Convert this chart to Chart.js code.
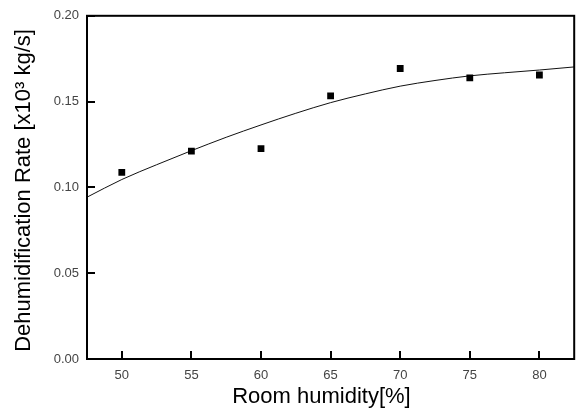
<!DOCTYPE html>
<html lang="en">
<head>
    <meta charset="UTF-8">
    <title>Dehumidification Rate vs Room humidity</title>
    <script src="https://cdn.jsdelivr.net/npm/chart.js"></script>
    <style>
        html, body { margin: 0; padding: 0; background: #fff; }
        #wrap { width: 579px; height: 412px; }
    </style>
</head>
<body>
    <div id="wrap"><canvas id="rateChart" width="579" height="412"></canvas></div>

    <script>
        // measured points
        const humidity = [50, 55, 60, 65, 70, 75, 80];
        const rate = [0.1088, 0.1212, 0.1226, 0.1533, 0.1693, 0.1638, 0.1655];

        // fitted curve
        const fitX = [47.5, 50, 52.5, 55, 57.5, 60, 62.5, 65, 67.5, 70, 72.5, 75, 77.5, 80, 82.5];
        const fitY = [0.0943, 0.1046, 0.1132, 0.1214, 0.1292, 0.1364, 0.1432, 0.1494, 0.1545, 0.1590, 0.1623, 0.1650, 0.1668, 0.1684, 0.1702];

        const xTicks = [50, 55, 60, 65, 70, 75, 80];
        const yTicks = [0.00, 0.05, 0.10, 0.15, 0.20];

        const FONT = "'Liberation Sans', Arial, sans-serif";

        // frame box + inward tick marks
        const framePlugin = {
            id: "frame",
            afterDraw(chart) {
                const { ctx, chartArea: a, scales } = chart;
                ctx.save();
                ctx.strokeStyle = "#000";
                ctx.lineWidth = 2;
                ctx.strokeRect(a.left, a.top, a.right - a.left, a.bottom - a.top);
                ctx.beginPath();
                scales.x.ticks.forEach(t => {
                    const px = Math.round(scales.x.getPixelForValue(t.value));
                    ctx.moveTo(px, a.bottom);
                    ctx.lineTo(px, a.bottom - 8);
                });
                scales.y.ticks.forEach(t => {
                    const py = Math.round(scales.y.getPixelForValue(t.value));
                    ctx.moveTo(a.left, py);
                    ctx.lineTo(a.left + 8, py);
                });
                ctx.stroke();
                ctx.restore();
            }
        };

        const ctx = document.getElementById("rateChart").getContext("2d");
        new Chart(ctx, {
            type: "scatter",
            data: {
                datasets: [
                    {
                        label: "Measured",
                        data: humidity.map((h, i) => ({ x: h, y: rate[i] })),
                        pointStyle: "rect",
                        pointRadius: 4.8,
                        backgroundColor: "#000",
                        borderColor: "#000",
                        borderWidth: 0,
                        showLine: false
                    },
                    {
                        label: "Fit",
                        data: fitX.map((h, i) => ({ x: h, y: fitY[i] })),
                        showLine: true,
                        pointRadius: 0,
                        borderColor: "#111",
                        borderWidth: 1,
                        cubicInterpolationMode: "monotone",
                        fill: false
                    }
                ]
            },
            options: {
                responsive: false,
                animation: false,
                layout: { padding: { top: 14, right: 3, left: 0, bottom: 0 } },
                plugins: {
                    legend: { display: false },
                    tooltip: { enabled: false }
                },
                scales: {
                    x: {
                        type: "linear",
                        min: 47.5,
                        max: 82.5,
                        afterBuildTicks: s => { s.ticks = xTicks.map(v => ({ value: v })); },
                        afterFit: s => { s.height = 53; },
                        grid: { display: false, drawTicks: false },
                        border: { display: false },
                        ticks: {
                            padding: 9,
                            color: "#444",
                            font: { family: FONT, size: 13 },
                            callback: v => String(v)
                        },
                        title: {
                            display: true,
                            // trailing spaces nudge the centred text a little left, as in the original
                            text: "Room humidity[%]   ",
                            color: "#000",
                            font: { family: FONT, size: 22, lineHeight: 1.2 },
                            padding: { top: 0, bottom: 2 }
                        }
                    },
                    y: {
                        type: "linear",
                        min: 0,
                        max: 0.2,
                        afterBuildTicks: s => { s.ticks = yTicks.map(v => ({ value: v })); },
                        afterFit: s => { s.width = 87; },
                        grid: { display: false, drawTicks: false },
                        border: { display: false },
                        ticks: {
                            padding: 8,
                            color: "#444",
                            font: { family: FONT, size: 13 },
                            callback: v => Number(v).toFixed(2)
                        },
                        title: {
                            display: true,
                            text: "Dehumidification Rate [x10³ kg/s] ",
                            color: "#000",
                            font: { family: FONT, size: 22, lineHeight: 1.2 },
                            padding: { top: 11, bottom: 0 }
                        }
                    }
                }
            },
            plugins: [framePlugin]
        });
    </script>
</body>
</html>
